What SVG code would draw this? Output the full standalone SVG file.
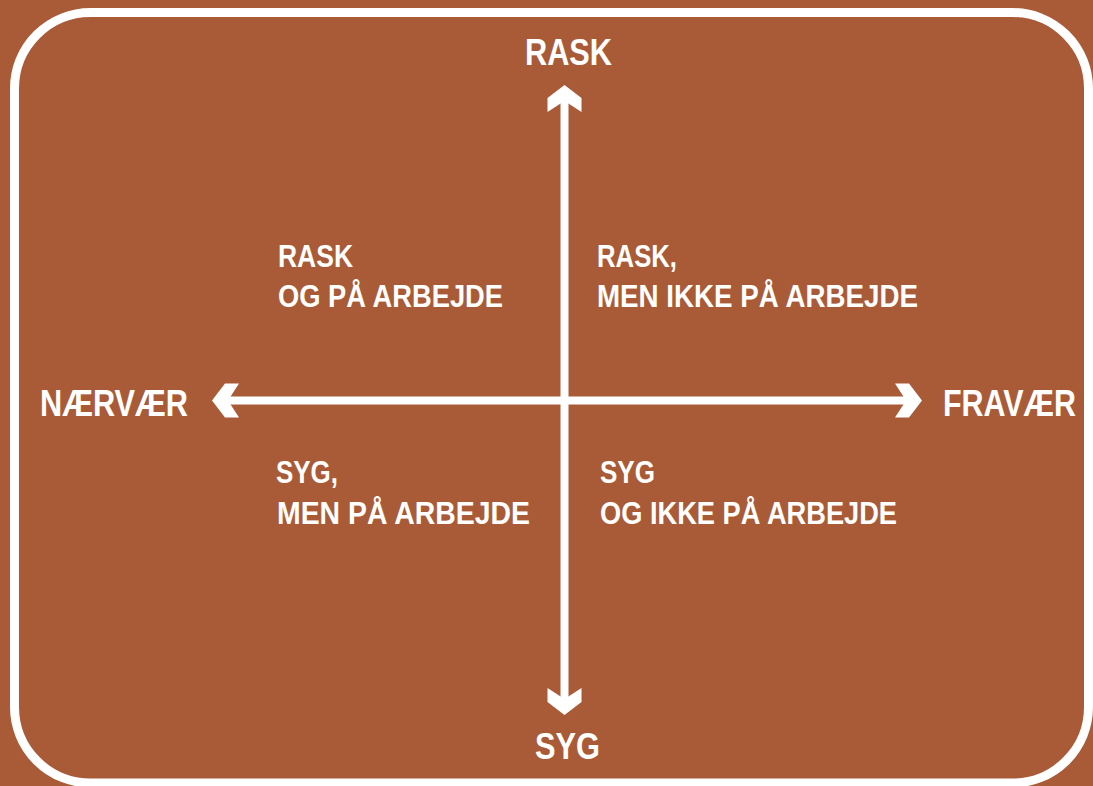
<svg xmlns="http://www.w3.org/2000/svg" width="1093" height="786" viewBox="0 0 1093 786">
  <defs>
    <style>
      .lbl { font-family: "Liberation Sans", Arial, sans-serif; font-weight: bold; fill: #ffffff; }
      .big { font-size: 37px; }
      .small { font-size: 31px; }
      .axis { stroke: #ffffff; stroke-width: 8; fill: none; marker-start: url(#head); marker-end: url(#head); }
    </style>
    <marker id="head" markerUnits="userSpaceOnUse" markerWidth="40" markerHeight="40" refX="14" refY="20" orient="auto-start-reverse" viewBox="0 0 40 40">
      <path d="M30,20 L17,3 L3,3 L14,20 L3,37 L17,37 Z" fill="#ffffff"/>
    </marker>
  </defs>
  <rect x="0" y="0" width="1093" height="786" fill="#A95B38"/>
  <rect id="frame" x="14.5" y="12.5" width="1074" height="770.5" rx="76" ry="76" fill="none" stroke="#ffffff" stroke-width="9"/>
  <g id="connectors">
    <line class="axis" x1="564.5" y1="101" x2="564.5" y2="699"/>
    <line class="axis" x1="228" y1="400.5" x2="906" y2="400.5"/>
  </g>
  <g id="node-rask">
    <text class="lbl big" x="525" y="65" textLength="87" lengthAdjust="spacingAndGlyphs">RASK</text>
  </g>
  <g id="node-syg">
    <text class="lbl big" x="535" y="759" textLength="65" lengthAdjust="spacingAndGlyphs">SYG</text>
  </g>
  <g id="node-naervaer">
    <text class="lbl big" x="40" y="416" textLength="148" lengthAdjust="spacingAndGlyphs">NÆRVÆR</text>
  </g>
  <g id="node-fravaer">
    <text class="lbl big" x="943" y="416" textLength="133" lengthAdjust="spacingAndGlyphs">FRAVÆR</text>
  </g>
  <g id="node-q1">
    <text class="lbl small" x="278" y="267" textLength="75" lengthAdjust="spacingAndGlyphs">RASK</text>
    <text class="lbl small" x="278" y="307" textLength="225" lengthAdjust="spacingAndGlyphs">OG PÅ ARBEJDE</text>
  </g>
  <g id="node-q2">
    <text class="lbl small" x="597" y="267" textLength="80" lengthAdjust="spacingAndGlyphs">RASK,</text>
    <text class="lbl small" x="597" y="307" textLength="321" lengthAdjust="spacingAndGlyphs">MEN IKKE PÅ ARBEJDE</text>
  </g>
  <g id="node-q3">
    <text class="lbl small" x="276" y="483" textLength="62" lengthAdjust="spacingAndGlyphs">SYG,</text>
    <text class="lbl small" x="277" y="524" textLength="253" lengthAdjust="spacingAndGlyphs">MEN PÅ ARBEJDE</text>
  </g>
  <g id="node-q4">
    <text class="lbl small" x="600" y="483" textLength="55" lengthAdjust="spacingAndGlyphs">SYG</text>
    <text class="lbl small" x="600" y="524" textLength="297" lengthAdjust="spacingAndGlyphs">OG IKKE PÅ ARBEJDE</text>
  </g>
</svg>
